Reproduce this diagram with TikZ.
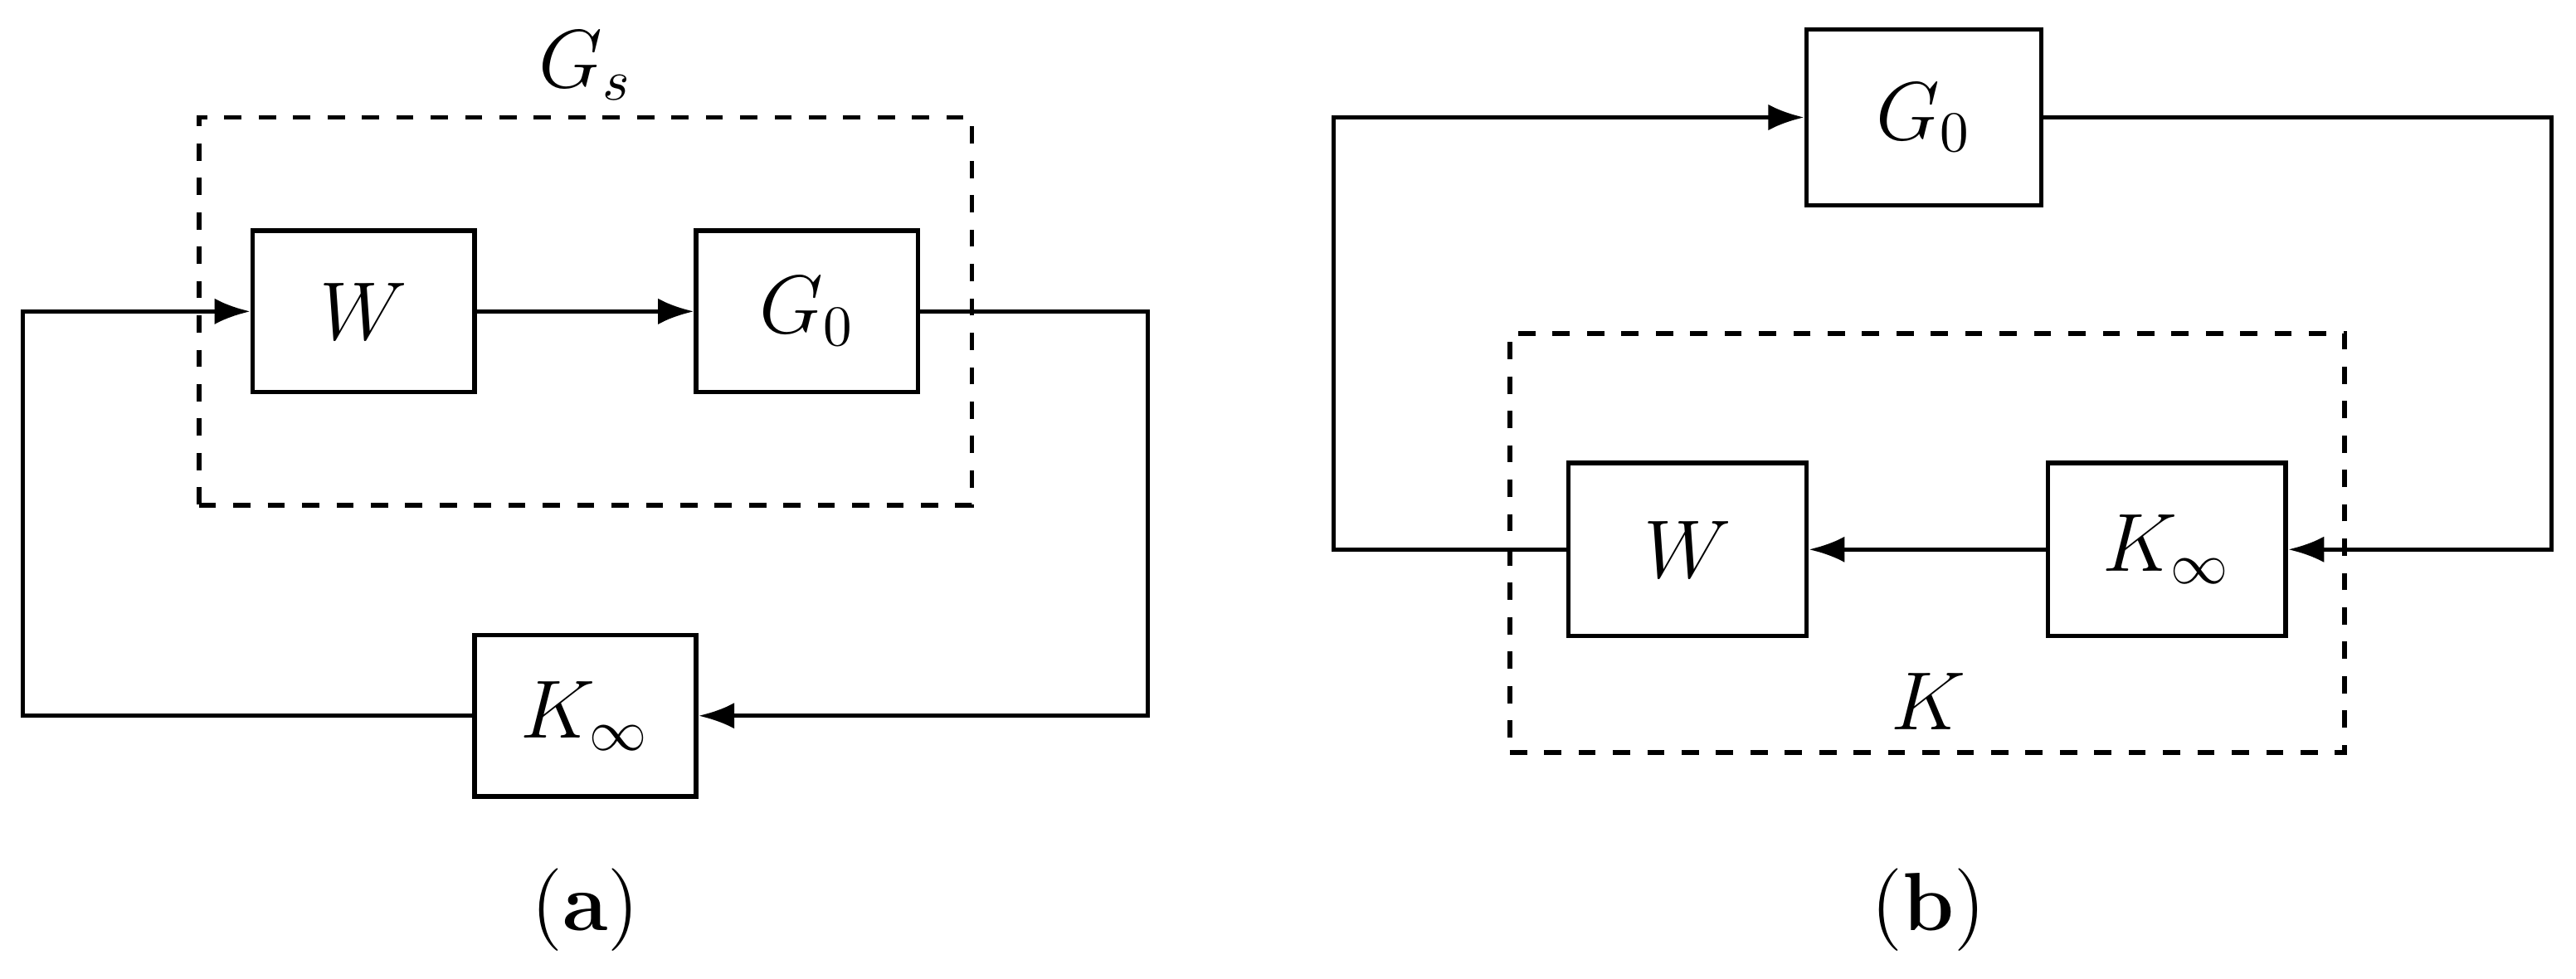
\documentclass[tikz,border=0pt]{standalone}
\usepackage{amsmath}
\usetikzlibrary{positioning,arrows.meta}
\begin{document}
\begin{tikzpicture}[
            block/.style={rectangle, draw, line width=0.8pt, minimum width=1.36cm, minimum height=0.99cm},
            wide block/.style={block, minimum width=1.44cm, minimum height=1.06cm},
            group box/.style={draw, dashed, line width=0.8pt},
            conn/.style={line width=0.8pt},
            arr/.style={conn, -{Latex[length=2.2mm,width=1.6mm]}},
            every node/.style={align=center,font=\Large}
    ]
        \useasboundingbox (0,0) rectangle (15.8,6.0);

        % (a) Dashed plant
        \node[group box, minimum width=4.74cm, minimum height=2.38cm] (gs_box) at (3.59,4.09) {};
        \node (gs_lbl) at (3.59,5.6) {$G_s$};

        % (a) Blocks
        \node[block] (a_W) at (2.23,4.09) {$W$};
        \node[block] (a_G) at (4.95,4.09) {$G_0$};
        \node[block] (a_K) at (3.59,1.61) {$K_\infty$};

        \coordinate (a_c1) at (7.04,4.09);
        \coordinate (a_c2) at (7.04,1.61);
        \coordinate (a_c3) at (0.14,1.61);
        \coordinate (a_c4) at (0.14,4.09);

        % (a) Arrows
        \draw[arr] (a_W) -- (a_G);
        \draw[arr] (a_G.east) -- (a_c1) -- (a_c2) -- (a_K.east);
        \draw[arr] (a_K.west) -- (a_c3) -- (a_c4) -- (a_W.west);

        \node (lbl_a) at (3.59,0.42) {(\textbf{a})};

        % (b) Dashed controller
        \node[group box, minimum width=5.12cm, minimum height=2.57cm] (k_box) at (11.82,2.67) {};
        \node (k_lbl) at (11.83,1.7) {$K$};

        % (b) Blocks
        \node[wide block, minimum height=1.08cm] (b_G) at (11.8,5.28) {$G_0$};
        \node[wide block, minimum width=1.46cm] (b_W) at (10.35,2.63) {$W$};
        \node[wide block, minimum width=1.46cm] (b_K) at (13.29,2.63) {$K_\infty$};

        \coordinate (b_c1) at (8.18,2.63);
        \coordinate (b_c2) at (8.18,5.28);
        \coordinate (b_c3) at (15.65,5.28);
        \coordinate (b_c4) at (15.65,2.63);

        % (b) Arrows
        \draw[arr] (b_K) -- (b_W);
        \draw[arr] (b_W.west) -- (b_c1) -- (b_c2) -- (b_G.west);
        \draw[arr] (b_G.east) -- (b_c3) -- (b_c4) -- (b_K.east);

        \node (lbl_b) at (11.83,0.42) {(\textbf{b})};
    \end{tikzpicture}
\end{document}
